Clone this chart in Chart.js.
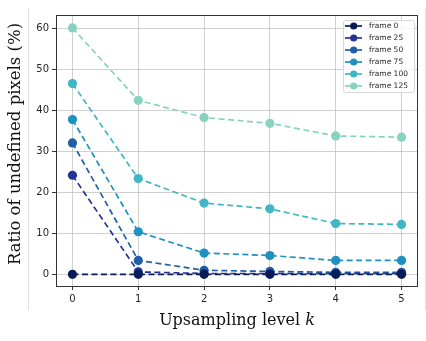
<!DOCTYPE html>
<html>
<head>
<meta charset="utf-8">
<script src="https://cdn.jsdelivr.net/npm/chart.js@4/dist/chart.umd.min.js"></script>
<style>
html,body{margin:0;padding:0;background:#fff;}
#wrap{width:426px;height:341px;position:relative;}
</style>
</head>
<body>
<div id="wrap"><canvas id="c" width="426" height="341"></canvas></div>
<script>
const levels = [0, 1, 2, 3, 4, 5];
const seriesNames = ['frame 0', 'frame 25', 'frame 50', 'frame 75', 'frame 100', 'frame 125'];
const frame0   = [0.0, 0.0, 0.0, 0.0, 0.0, 0.0];
const frame25  = [24.2, 0.6, 0.2, 0.2, 0.2, 0.2];
const frame50  = [32.1, 3.4, 1.0, 0.7, 0.5, 0.5];
const frame75  = [37.8, 10.4, 5.2, 4.6, 3.4, 3.4];
const frame100 = [46.6, 23.4, 17.4, 16.0, 12.4, 12.2];
const frame125 = [60.2, 42.5, 38.3, 36.9, 33.8, 33.5];
const seriesValues = [frame0, frame25, frame50, frame75, frame100, frame125];
const seriesColors = ['#081d58', '#253494', '#225ea8', '#1d91c0', '#41b6c4', '#88d3bf'];
const xTickValues = [0, 1, 2, 3, 4, 5];
const yTickValues = [0, 10, 20, 30, 40, 50, 60];
const yTitle = 'Ratio of undefined pixels (%)';
const xTitleMain = 'Upsampling level ';
const xTitleVar = 'k';

const datasets = seriesValues.map((vals, i) => ({
  label: seriesNames[i],
  data: levels.map((x, j) => ({x: x, y: vals[j]})),
  borderColor: seriesColors[i],
  backgroundColor: seriesColors[i],
  borderWidth: 1.7,
  borderDash: [6, 3.5],
  pointRadius: 4.6,
  pointHoverRadius: 4.6,
  pointBorderWidth: 0,
  fill: false,
  tension: 0
}));

const framePlugin = {
  id: 'framePlugin',
  beforeDraw(chart) {
    const ctx = chart.ctx;
    ctx.save();
    ctx.strokeStyle = '#e2e2e2';
    ctx.lineWidth = 1;
    ctx.beginPath();
    ctx.moveTo(28.5, 8); ctx.lineTo(28.5, 310);
    ctx.moveTo(425.5, 8); ctx.lineTo(425.5, 310);
    ctx.stroke();
    ctx.restore();
  },
  afterDatasetsDraw(chart) {
    const a = chart.chartArea;
    const ctx = chart.ctx;
    ctx.save();
    ctx.strokeStyle = '#333333';
    ctx.lineWidth = 1;
    ctx.strokeRect(Math.round(a.left) + 0.5, Math.round(a.top) + 0.5,
                   Math.round(a.right - a.left) - 1, Math.round(a.bottom - a.top));
    ctx.restore();
  },
  afterDraw(chart) {
    const ctx = chart.ctx;
    const a = chart.chartArea;
    ctx.save();
    // legend
    const lx = 343, ly = 20, lw = 71, lh = 72;
    ctx.fillStyle = 'rgba(255,255,255,0.85)';
    ctx.strokeStyle = '#d8d8d8';
    ctx.lineWidth = 1;
    ctx.beginPath();
    if (ctx.roundRect) ctx.roundRect(lx + 0.5, ly + 0.5, lw, lh, 2); else ctx.rect(lx + 0.5, ly + 0.5, lw, lh);
    ctx.fill(); ctx.stroke();
    chart.data.datasets.forEach((ds, i) => {
      const cy = 26 + i * 12;
      ctx.strokeStyle = ds.borderColor;
      ctx.lineWidth = 1.7;
      ctx.setLineDash([]);
      ctx.beginPath(); ctx.moveTo(345, cy); ctx.lineTo(362, cy); ctx.stroke();
      ctx.fillStyle = ds.backgroundColor;
      ctx.beginPath(); ctx.arc(353.7, cy, 3.6, 0, Math.PI * 2); ctx.fill();
      ctx.fillStyle = '#262626';
      ctx.font = '7.5px "DejaVu Sans"';
      ctx.textBaseline = 'middle';
      ctx.textAlign = 'left';
      ctx.fillText(ds.label, 369, cy + 0.5);
    });
    // y title
    ctx.fillStyle = '#111';
    ctx.font = '16.5px "DejaVu Serif"';
    ctx.textAlign = 'center';
    ctx.textBaseline = 'middle';
    ctx.translate(16, 144);
    ctx.rotate(-Math.PI / 2);
    ctx.fillText(yTitle, 0, 0);
    ctx.setTransform(1, 0, 0, 1, 0, 0);
    // x title
    ctx.font = '16px "DejaVu Serif"';
    const w1 = ctx.measureText(xTitleMain).width;
    ctx.font = 'italic 16px "DejaVu Serif"';
    const w2 = ctx.measureText(xTitleVar).width;
    const cx = 237;
    const sx = cx - (w1 + w2) / 2;
    ctx.textAlign = 'left';
    ctx.textBaseline = 'alphabetic';
    ctx.font = '16px "DejaVu Serif"';
    ctx.fillText(xTitleMain, sx, 325);
    ctx.font = 'italic 16px "DejaVu Serif"';
    ctx.fillText(xTitleVar, sx + w1, 325);
    ctx.restore();
  }
};

new Chart(document.getElementById('c'), {
  type: 'line',
  data: { datasets: datasets },
  options: {
    responsive: false,
    animation: false,
    devicePixelRatio: 1,
    layout: { padding: { left: 0, right: 8, top: 15, bottom: 0 } },
    plugins: { legend: { display: false }, tooltip: { enabled: false } },
    scales: {
      x: {
        type: 'linear',
        min: -0.25, max: 5.25,
        afterBuildTicks(scale) { scale.ticks = xTickValues.map(v => ({value: v})); },
        afterFit(scale) { scale.height = 55; },
        ticks: { includeBounds: false, stepSize: 1, padding: 3, color: '#262626', font: { family: 'DejaVu Sans', size: 10 } },
        grid: { color: 'rgba(176,176,176,0.6)', lineWidth: 1, tickColor: '#333', tickLength: 4, drawTicks: true },
        border: { display: false }
      },
      y: {
        type: 'linear',
        min: -2.85, max: 63.35,
        afterBuildTicks(scale) { scale.ticks = yTickValues.map(v => ({value: v})); },
        afterFit(scale) { scale.width = 56; },
        ticks: { includeBounds: false, stepSize: 10, padding: 3, color: '#262626', font: { family: 'DejaVu Sans', size: 10 } },
        grid: { color: 'rgba(176,176,176,0.6)', lineWidth: 1, tickColor: '#333', tickLength: 4, drawTicks: true },
        border: { display: false }
      }
    }
  },
  plugins: [framePlugin]
});
</script>
</body>
</html>
